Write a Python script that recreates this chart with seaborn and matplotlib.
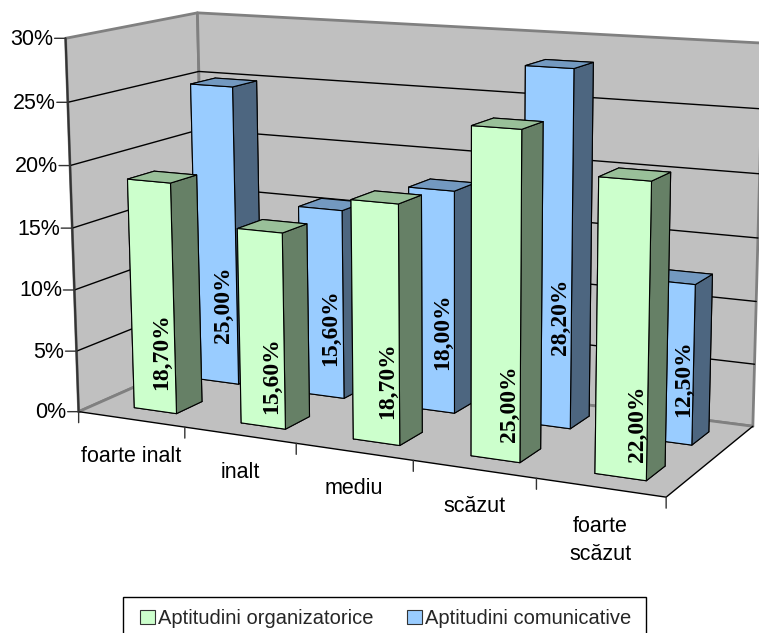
import matplotlib
matplotlib.use("Agg")
import matplotlib.pyplot as plt
from matplotlib.patches import Patch, Rectangle
from mpl_toolkits.mplot3d import proj3d
from mpl_toolkits.mplot3d.art3d import Poly3DCollection
import seaborn as sns

#-Data
categories = ["foarte inalt", "inalt", "mediu", "scăzut", "foarte\nscăzut"]
series_names = ["Aptitudini organizatorice", "Aptitudini comunicative"]
organizatorice = [18.7, 15.6, 18.7, 25.0, 22.0]
comunicative = [25.0, 15.6, 18.0, 28.2, 12.5]
z_ticks = [0, 5, 10, 15, 20, 25, 30]

#-Height on the bar where each value label sits
label_z_org = [4.35, 3.6, 4.4, 3.85, 3.6]
label_z_com = [6.15, 5.3, 6.0, 8.35, 4.6]

#-Figure
W, H = 759, 633
sns.set_theme(style="white")
plt.rcParams["font.family"] = ["Liberation Sans", "DejaVu Sans"]
fig = plt.figure(figsize=(W / 100, H / 100), dpi=100)
ax = fig.add_axes([0, 0, 1, 1], projection="3d", computed_zorder=False)
ax.set_xlim(0, 5, view_margin=0)
ax.set_ylim(0, 2, view_margin=0)
ax.set_zlim(0, 30, view_margin=0)
ax.set_axis_off()
ax.patch.set_alpha(0)

#-Camera, fitted to the corners of the box
ax.view_init(11.807, -63.488, 0.253)
ax.set_proj_type("persp", focal_length=0.558)
ax.set_box_aspect((1, 0.389, 0.602), zoom=1)
s, tx, ty = 4142.2, 410.5, 233.0  # pixel_x = tx + s*xv, pixel_y = ty - s*yv

#-Place the axes so that view coordinates land on those pixels
ax.apply_aspect()
bb = ax.get_position(original=False)
S0 = bb.width * W
p0 = ax.transData.transform([(0, 0), (1, 1)])
s0 = p0[1, 0] - p0[0, 0]
n0x = (p0[0, 0] - bb.x0 * W) / S0
n0y = (p0[0, 1] - bb.y0 * H) / S0
S = s * S0 / s0
L = tx - S * n0x
B = (H - ty) - S * n0y
ax.set_position([L / W, B / H, S / W, S / H])

#-Walls, floor, grid
wall = "#C0C0C0"
edge = "#808080"
back = [[(0, 2, 0), (5, 2, 0), (5, 2, 30), (0, 2, 30)]]
left = [[(0, 0, 0), (0, 2, 0), (0, 2, 30), (0, 0, 30)]]
floor = [[(0, 0, 0), (5, 0, 0), (5, 2, 0), (0, 2, 0)]]
ax.add_collection3d(Poly3DCollection(back + left, facecolor=wall, edgecolor=edge, linewidth=2, zorder=1))
for z in z_ticks[1:-1]:
    ax.plot([0, 0, 5], [0, 2, 2], [z, z, z], color="black", lw=1, zorder=2)
ax.add_collection3d(Poly3DCollection(floor, facecolor=wall, edgecolor="none", zorder=3))
ax.plot([0, 0, 5], [0, 2, 2], [0, 0, 0], color=edge, lw=2, zorder=3)
ax.plot([0, 5, 5], [0, 0, 2], [0, 0, 0], color="black", lw=1, zorder=3)
ax.plot([0, 0], [0, 0], [0, 30], color="#333333", lw=1.5, zorder=3)

#-Bars, back row first, left to right
front_cols = sns.color_palette(["#CCFFCC", "#99CCFF"])
top_cols = sns.color_palette(["#99C099", "#7399C0"])
side_cols = sns.color_palette(["#668066", "#4D6680"])
rows = [(1, comunicative, label_z_com, 1.3), (0, organizatorice, label_z_org, 0.3)]
order = 10
for idx, vals, _, y0 in rows:
    for i, v in enumerate(vals):
        cols = [side_cols[idx], top_cols[idx], front_cols[idx], side_cols[idx], side_cols[idx], side_cols[idx]]
        ax.bar3d(i + 0.34, y0, 0, 0.4, 0.4, v, color=cols, shade=False, edgecolor="black", linewidth=0.8, zorder=order)
        order += 1

M = ax.get_proj()


def view(x, y, z):
    xv, yv, _ = proj3d.proj_transform(x, y, z, M)
    return float(xv), float(yv)


#-Value labels
for idx, vals, label_z, y0 in rows:
    for i, v in enumerate(vals):
        lab = f"{v:.2f}%".replace(".", ",")
        ax.annotate(lab, xy=view(i * 1.025 + 0.49, y0 + 0.2, label_z[i]), rotation=90, ha="center", va="center",
                    family="Liberation Serif", weight="bold", fontsize=17, color="black", zorder=60)

#-Value axis ticks and labels
tick = dict(arrowstyle="-", lw=1, color="#333333", shrinkA=0, shrinkB=0)
for z in z_ticks:
    xy = view(0, 0, z)
    ax.annotate("", xy=xy, xytext=(-11, 0), textcoords="offset pixels", arrowprops=tick, zorder=40)
    ax.annotate(f"{z}%", xy=xy, xytext=(-12, -1), textcoords="offset pixels", ha="right", va="center",
                fontsize=15.5, color="black", zorder=40)

#-Category ticks and labels
for i in range(6):
    ax.annotate("", xy=view(i, 0, 0), xytext=(0, -11), textcoords="offset pixels", arrowprops=tick, zorder=40)
for i, lab in enumerate(categories):
    off = -53 if "\n" in lab else -37
    ax.annotate(lab, xy=view(i + 0.5, 0, 0), xytext=(0, off), textcoords="offset pixels", ha="center", va="center",
                fontsize=15.5, color="black", linespacing=1.4, zorder=40)

#-Legend
fig.add_artist(Rectangle((123 / W, -10 / H), 523 / W, (H - 597 + 10) / H, transform=fig.transFigure,
                         facecolor="white", edgecolor="black", lw=1))
handles = [Patch(facecolor=front_cols[0], edgecolor="#333333", lw=0.8),
           Patch(facecolor=front_cols[1], edgecolor="#333333", lw=0.8)]
fig.legend(handles, series_names, loc="upper left", bbox_to_anchor=(140 / W, 1 - 609 / H), ncol=2, fontsize=14.5,
           frameon=False, handlelength=0.75, handleheight=0.7, handletextpad=0.15, columnspacing=1.65, borderpad=0,
           borderaxespad=0)

fig.savefig("out.png", dpi=100)
